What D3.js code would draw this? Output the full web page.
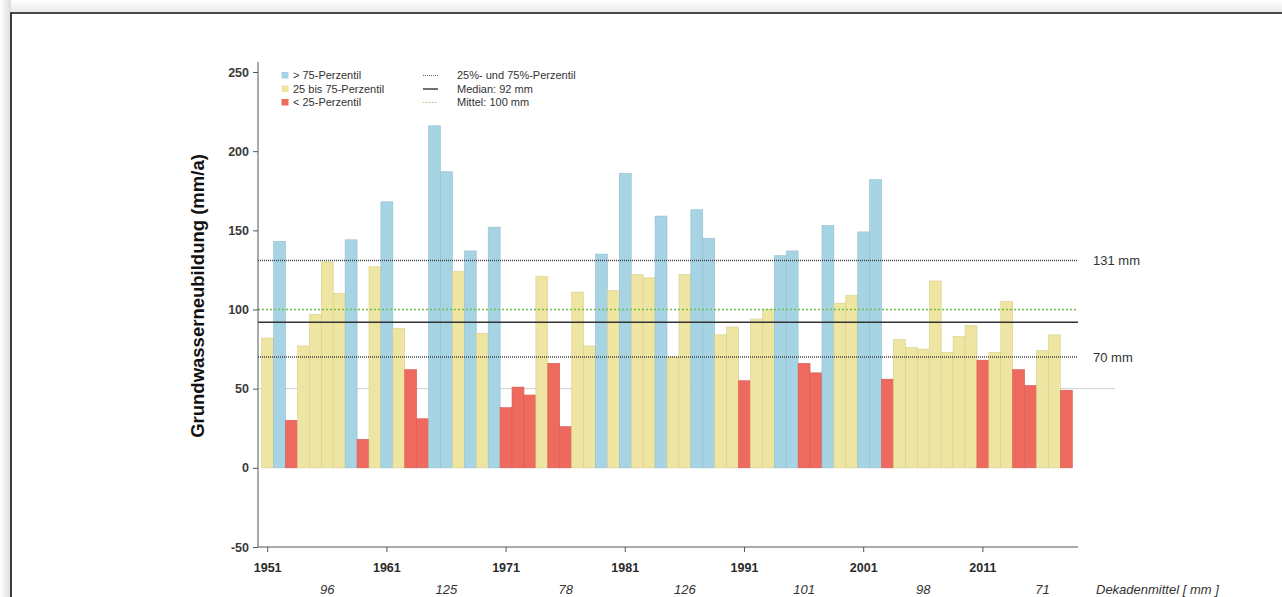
<!DOCTYPE html>
<html>
<head>
<meta charset="utf-8">
<script src="https://cdn.jsdelivr.net/npm/d3@7"></script>
<style>
  html, body { margin: 0; padding: 0; background: #fff; }
  svg { display: block; }
  text { font-family: "Liberation Sans", Arial, sans-serif; }
</style>
</head>
<body>
<svg id="chart" width="1282" height="597"></svg>
<script>
// Annual groundwater recharge (mm/a), 1951–2018
const years = [
  1951, 1952, 1953, 1954, 1955, 1956, 1957, 1958, 1959, 1960,
  1961, 1962, 1963, 1964, 1965, 1966, 1967, 1968, 1969, 1970,
  1971, 1972, 1973, 1974, 1975, 1976, 1977, 1978, 1979, 1980,
  1981, 1982, 1983, 1984, 1985, 1986, 1987, 1988, 1989, 1990,
  1991, 1992, 1993, 1994, 1995, 1996, 1997, 1998, 1999, 2000,
  2001, 2002, 2003, 2004, 2005, 2006, 2007, 2008, 2009, 2010,
  2011, 2012, 2013, 2014, 2015, 2016, 2017, 2018
];
const recharge = [
  82, 143, 30, 77, 97, 130, 110, 144, 18, 127,
  168, 88, 62, 31, 216, 187, 124, 137, 85, 152,
  38, 51, 46, 121, 66, 26, 111, 77, 135, 112,
  186, 122, 120, 159, 70, 122, 163, 145, 84, 89,
  55, 94, 100, 134, 137, 66, 60, 153, 104, 109,
  149, 182, 56, 81, 76, 75, 118, 73, 83, 90,
  68, 73, 105, 62, 52, 74, 84, 49
];
const decadeStarts = [1951, 1961, 1971, 1981, 1991, 2001, 2011];
const yTicks = [-50, 0, 50, 100, 150, 200, 250];
const xTickYears = [1951, 1961, 1971, 1981, 1991, 2001, 2011];
const p25 = 70;   // 25th percentile (mm)
const p75 = 131;  // 75th percentile (mm)

const colors = { high: "#a6d4e4", mid: "#efe5a2", low: "#ee6a5e" };
const strokes = { high: "#93bfcd", mid: "#d8cf8e", low: "#d85a50" };
const classOf = v => v > p75 ? "high" : (v < p25 ? "low" : "mid");

const data = years.map((y, i) => ({ year: y, value: recharge[i] }));
const median = d3.median(recharge);
const mean = d3.mean(recharge);

const svg = d3.select("#chart");

// page frame with soft shadow on the outside
const defs = svg.append("defs");
const gl = defs.append("linearGradient").attr("id", "shadeL").attr("x1", 0).attr("x2", 1);
gl.append("stop").attr("offset", 0).attr("stop-color", "#ffffff");
gl.append("stop").attr("offset", 1).attr("stop-color", "#dcdcdc");
const gt = defs.append("linearGradient").attr("id", "shadeT").attr("x1", 0).attr("x2", 0).attr("y1", 0).attr("y2", 1);
gt.append("stop").attr("offset", 0).attr("stop-color", "#ffffff");
gt.append("stop").attr("offset", 1).attr("stop-color", "#e9e9e9");
svg.append("rect").attr("x", 0).attr("y", 0).attr("width", 11).attr("height", 597).attr("fill", "url(#shadeL)");
svg.append("rect").attr("x", 11).attr("y", 0).attr("width", 1271).attr("height", 13).attr("fill", "url(#shadeT)");
svg.append("path").attr("d", "M11,597 V13 H1282").attr("fill", "none").attr("stroke", "#111").attr("stroke-width", 1.6);

// scales
const x = d3.scaleBand().domain(years).range([261.7, 1072.3]).paddingInner(0).paddingOuter(0);
const y = d3.scaleLinear().domain([-50, 250]).range([547, 72]);
const axisX0 = 258, refEnd = 1078;

// thin grey line at 50 mm
svg.append("line")
  .attr("x1", axisX0).attr("x2", 1115)
  .attr("y1", y(50)).attr("y2", y(50))
  .attr("stroke", "#cfcfcf").attr("stroke-width", 1);

// bars
svg.append("g").selectAll("rect").data(data).join("rect")
  .attr("x", d => x(d.year))
  .attr("y", d => y(d.value))
  .attr("width", x.bandwidth())
  .attr("height", d => y(0) - y(d.value))
  .attr("fill", d => colors[classOf(d.value)])
  .attr("stroke", d => strokes[classOf(d.value)])
  .attr("stroke-width", 0.6);

// reference lines
const refs = svg.append("g");
[p75, p25].forEach(v => {
  refs.append("line")
    .attr("x1", axisX0).attr("x2", refEnd)
    .attr("y1", y(v)).attr("y2", y(v))
    .attr("stroke", "#444").attr("stroke-width", 1.5)
    .attr("stroke-dasharray", "1,1");
});
refs.append("line")
  .attr("x1", axisX0).attr("x2", refEnd)
  .attr("y1", y(Math.round(mean))).attr("y2", y(Math.round(mean)))
  .attr("stroke", "#6cc04a").attr("stroke-width", 1.5)
  .attr("stroke-dasharray", "2,2");
refs.append("line")
  .attr("x1", axisX0).attr("x2", refEnd)
  .attr("y1", y(median)).attr("y2", y(median))
  .attr("stroke", "#333").attr("stroke-width", 1.5);

// percentile labels on the right
[p75, p25].forEach(v => {
  svg.append("text")
    .attr("x", 1093).attr("y", y(v) + 4.5)
    .attr("font-size", 13).attr("fill", "#333")
    .text(v + " mm");
});

// y axis
const yAxis = d3.axisLeft(y).tickValues(yTicks).tickSize(5).tickPadding(4)
  .tickFormat(d => String(d));
const gy = svg.append("g").attr("transform", `translate(${axisX0},0)`).call(yAxis);
gy.select(".domain").attr("d", `M-0,62 V547`).attr("stroke", "#555");
gy.selectAll(".tick line").attr("stroke", "#555");
gy.selectAll(".tick text").attr("font-size", 12.5).attr("font-weight", "bold").attr("fill", "#3a3a3a")
  .attr("font-family", "'Liberation Sans', Arial, sans-serif");

// x axis
const gx = svg.append("g").attr("transform", "translate(0,547)");
gx.append("line").attr("x1", axisX0).attr("x2", refEnd).attr("y1", 0).attr("y2", 0)
  .attr("stroke", "#555");
gx.selectAll(".xt").data(xTickYears).join("line")
  .attr("x1", d => x(d) + x.bandwidth() / 2).attr("x2", d => x(d) + x.bandwidth() / 2)
  .attr("y1", 0).attr("y2", 5).attr("stroke", "#555");
gx.selectAll(".xl").data(xTickYears).join("text")
  .attr("x", d => x(d) + x.bandwidth() / 2).attr("y", 25)
  .attr("text-anchor", "middle").attr("font-size", 12.5).attr("font-weight", "bold")
  .attr("fill", "#2a2a2a")
  .text(d => d);

// decade means
const decadeMeans = decadeStarts.map(s =>
  Math.round(d3.mean(data.filter(d => d.year >= s && d.year < s + 10), d => d.value)));
svg.append("g").selectAll("text").data(decadeStarts).join("text")
  .attr("x", (s) => x(s + 5) + x.bandwidth() / 2)
  .attr("y", 594)
  .attr("text-anchor", "middle").attr("font-size", 13).attr("font-style", "italic")
  .attr("fill", "#333")
  .text((s, i) => decadeMeans[i]);
svg.append("text").attr("x", 1096).attr("y", 594)
  .attr("font-size", 13).attr("font-style", "italic").attr("fill", "#333")
  .text("Dekadenmittel [ mm ]");

// y axis title
svg.append("text")
  .attr("transform", "translate(204,296) rotate(-90)")
  .attr("text-anchor", "middle")
  .attr("font-family", "'Open Sans', sans-serif")
  .attr("font-weight", 600)
  .attr("font-size", 18.5)
  .attr("fill", "#111")
  .text("Grundwasserneubildung (mm/a)");

// legend
const legL = [
  { cls: "high", label: "> 75-Perzentil" },
  { cls: "mid", label: "25 bis 75-Perzentil" },
  { cls: "low", label: "< 25-Perzentil" }
];
const legR = [
  { label: "25%- und 75%-Perzentil", stroke: "#666", dash: "1,1", w: 1.2 },
  { label: "Median: " + median + " mm", stroke: "#333", dash: null, w: 1.4 },
  { label: "Mittel: " + Math.round(mean) + " mm", stroke: "#8fcf7a", dash: "1.5,1.5", w: 1.2 }
];
const rowY = [75.5, 89, 102.5];
const gl1 = svg.append("g");
legL.forEach((d, i) => {
  gl1.append("rect").attr("x", 281.5).attr("y", rowY[i] - 3.5).attr("width", 7).attr("height", 6.5)
    .attr("fill", colors[d.cls]);
  gl1.append("text").attr("x", 293).attr("y", rowY[i] + 3.8)
    .attr("font-size", 11).attr("fill", "#333").text(d.label);
});
legR.forEach((d, i) => {
  const ln = gl1.append("line").attr("x1", 423).attr("x2", 438)
    .attr("y1", rowY[i]).attr("y2", rowY[i])
    .attr("stroke", d.stroke).attr("stroke-width", d.w);
  if (d.dash) ln.attr("stroke-dasharray", d.dash);
  gl1.append("text").attr("x", 457).attr("y", rowY[i] + 3.8)
    .attr("font-size", 11).attr("fill", "#333").text(d.label);
});
</script>
</body>
</html>
